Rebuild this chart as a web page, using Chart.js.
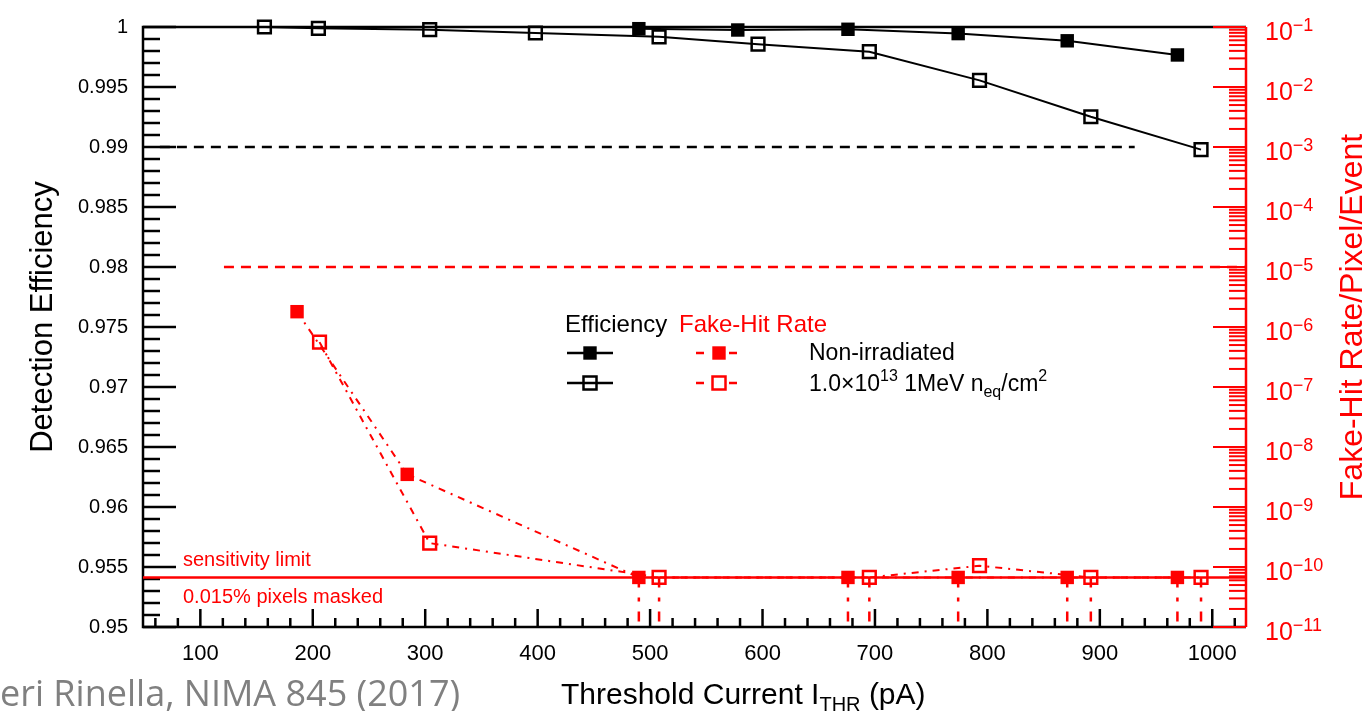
<!DOCTYPE html>
<html>
<head>
<meta charset="utf-8">
<script src="https://cdn.jsdelivr.net/npm/chart.js@4"></script>
<style>
  html, body { margin: 0; padding: 0; background: #fff; }
  #wrap { width: 1370px; height: 711px; position: relative; }
</style>
</head>
<body>
<div id="wrap"><canvas id="c"></canvas></div>
<script>
// threshold current (pA) and detection efficiency
var effThrNon = [490, 578, 676, 774, 871, 969];
var effNon = [0.99986, 0.99975, 0.99981, 0.99945, 0.99885, 0.99767];
var effThrIrr = [157, 205, 304, 398, 508, 596, 695, 793, 892, 990];
var effIrr = [1.0, 0.99989, 0.99978, 0.9995, 0.99918, 0.99857, 0.99794, 0.99555, 0.99252, 0.98978];

// fake-hit rate per pixel per event
var sensLimit = 6.7e-11;
var fakeThrNon = [186, 284, 490, 676, 774, 871, 969];
var fakeNon = [1.8e-6, 3.5e-9, sensLimit, sensLimit, sensLimit, sensLimit, sensLimit];
var fakeThrIrr = [206, 304, 508, 695, 793, 892, 990];
var fakeIrr = [5.6e-7, 2.5e-10, sensLimit, sensLimit, 1.05e-10, sensLimit, sensLimit];

// reference lines
var effRefX = [64, 931];
var effRef = 0.99;
var fakeRefX = [121, 1030];
var fakeRef = 1e-5;

// axes
var xRange = [49, 1030];
var xTickValues = [100, 200, 300, 400, 500, 600, 700, 800, 900, 1000];
var xTickLabels = ['100', '200', '300', '400', '500', '600', '700', '800', '900', '1000'];
var effTickValues = [0.95, 0.955, 0.96, 0.965, 0.97, 0.975, 0.98, 0.985, 0.99, 0.995, 1];
var effTickLabels = ['0.95', '0.955', '0.96', '0.965', '0.97', '0.975', '0.98', '0.985', '0.99', '0.995', '1'];
var fakeExps = [-11, -10, -9, -8, -7, -6, -5, -4, -3, -2, -1];

var RED = '#ff0000';
var FONT = '"Liberation Sans", Arial, Helvetica, sans-serif';
Chart.defaults.font.family = FONT;

function pts(xs, ys) {
  return xs.map(function (x, i) { return { x: x, y: ys[i] }; });
}

// dotted drops under points sitting on the sensitivity limit
var limitDrops = [];
fakeThrNon.concat(fakeThrIrr).forEach(function (x, i) {
  var y = i < fakeThrNon.length ? fakeNon[i] : fakeIrr[i - fakeThrNon.length];
  if (y === sensLimit) {
    limitDrops.push({ x: x, y: sensLimit }, { x: x, y: 1e-11 }, { x: x, y: null });
  }
});

var markerCommon = { pointStyle: 'rect', tension: 0, clip: false, showLine: true };

var datasets = [
  Object.assign({
    label: 'Efficiency non-irradiated', data: pts(effThrNon, effNon), yAxisID: 'yEff',
    borderColor: '#000', backgroundColor: '#000', borderWidth: 2,
    pointRadius: 9.5, pointBorderWidth: 0, pointBackgroundColor: '#000'
  }, markerCommon),
  Object.assign({
    label: 'Efficiency irradiated', data: pts(effThrIrr, effIrr), yAxisID: 'yEff',
    borderColor: '#000', borderWidth: 2,
    pointRadius: 9, pointBorderWidth: 2.5, pointBackgroundColor: 'rgba(0,0,0,0)', pointBorderColor: '#000'
  }, markerCommon),
  Object.assign({
    label: 'Fake-hit non-irradiated', data: pts(fakeThrNon, fakeNon), yAxisID: 'yFake',
    borderColor: RED, borderWidth: 2, borderDash: [7, 6, 2, 6],
    pointRadius: 9.5, pointBorderWidth: 0, pointBackgroundColor: RED
  }, markerCommon),
  Object.assign({
    label: 'Fake-hit irradiated', data: pts(fakeThrIrr, fakeIrr), yAxisID: 'yFake',
    borderColor: RED, borderWidth: 2, borderDash: [7, 6, 2, 6],
    pointRadius: 9, pointBorderWidth: 2.5, pointBackgroundColor: 'rgba(0,0,0,0)', pointBorderColor: RED
  }, markerCommon),
  {
    label: 'limit drops', data: limitDrops, yAxisID: 'yFake', spanGaps: false,
    borderColor: RED, borderWidth: 2.5, borderDash: [10, 10, 4, 10], pointRadius: 0
  },
  {
    label: 'sensitivity limit', data: pts(xRange, [sensLimit, sensLimit]), yAxisID: 'yFake',
    borderColor: RED, borderWidth: 2.5, pointRadius: 0
  },
  {
    label: 'fake ref', data: pts(fakeRefX, [fakeRef, fakeRef]), yAxisID: 'yFake',
    borderColor: RED, borderWidth: 2.5, borderDash: [10, 7], pointRadius: 0
  },
  {
    label: 'eff ref', data: pts(effRefX, [effRef, effRef]), yAxisID: 'yEff',
    borderColor: '#000', borderWidth: 2.5, borderDash: [10, 7], pointRadius: 0
  }
];

function seg(ctx, x1, y1, x2, y2) {
  ctx.beginPath();
  ctx.moveTo(x1, y1);
  ctx.lineTo(x2, y2);
  ctx.stroke();
}

function runs(ctx, parts, x, baseline) {
  // parts: [text, size, dy]
  parts.forEach(function (p) {
    ctx.font = p[1] + 'px ' + FONT;
    ctx.fillText(p[0], x, baseline + p[2]);
    x += ctx.measureText(p[0]).width;
  });
  return x;
}

function vtext(ctx, text, size, color, xBase, yCenter) {
  ctx.save();
  ctx.translate(xBase, yCenter);
  ctx.rotate(-Math.PI / 2);
  ctx.font = size + 'px ' + FONT;
  ctx.fillStyle = color;
  ctx.textAlign = 'center';
  ctx.textBaseline = 'alphabetic';
  ctx.fillText(text, 0, 0);
  ctx.restore();
}

function square(ctx, cx, cy, filled, color) {
  ctx.fillStyle = color;
  ctx.strokeStyle = color;
  if (filled) {
    ctx.fillRect(cx - 6.7, cy - 6.7, 13.4, 13.4);
  } else {
    ctx.lineWidth = 2.5;
    ctx.strokeRect(cx - 6.5, cy - 6.5, 13, 13);
  }
}

var decor = {
  id: 'decor',
  beforeDatasetsDraw: function (chart) {
    var ctx = chart.ctx, a = chart.chartArea, s = chart.scales;
    ctx.save();
    ctx.strokeStyle = '#000';
    ctx.lineWidth = 2.5;
    ctx.beginPath();
    ctx.moveTo(a.right, a.top);
    ctx.lineTo(a.left, a.top);
    ctx.lineTo(a.left, a.bottom);
    ctx.lineTo(a.right, a.bottom);
    ctx.stroke();
    // left axis ticks (inside)
    for (var i = 0; i <= 50; i++) {
      var py = s.yEff.getPixelForValue(0.95 + i * 0.001);
      seg(ctx, a.left, py, a.left + (i % 5 === 0 ? 33 : 17), py);
    }
    // bottom axis ticks (inside)
    for (var v = 60; v <= 1020; v += 20) {
      var px = s.x.getPixelForValue(v);
      seg(ctx, px, a.bottom, px, a.bottom - (v % 100 === 0 ? 18 : 9));
    }
    // right log axis
    ctx.strokeStyle = RED;
    ctx.lineWidth = 2.5;
    seg(ctx, a.right, a.top, a.right, a.bottom);
    ctx.lineWidth = 2;
    fakeExps.forEach(function (e) {
      var py = s.yFake.getPixelForValue(Math.pow(10, e));
      seg(ctx, a.right, py, a.right - 33, py);
      if (e < -1) {
        for (var k = 2; k <= 9; k++) {
          var q = s.yFake.getPixelForValue(k * Math.pow(10, e));
          seg(ctx, a.right, q, a.right - 17, q);
        }
      }
    });
    ctx.restore();
  },
  afterDraw: function (chart) {
    var ctx = chart.ctx, a = chart.chartArea, s = chart.scales;
    ctx.save();
    ctx.textAlign = 'left';
    ctx.textBaseline = 'alphabetic';

    // right axis labels 10^-n
    ctx.fillStyle = RED;
    fakeExps.forEach(function (e) {
      var py = s.yFake.getPixelForValue(Math.pow(10, e));
      runs(ctx, [['10', 25, 13], ['\u2212' + Math.abs(e), 18, 4]], a.right + 19, py);
    });

    // axis titles
    vtext(ctx, 'Detection Efficiency', 31, '#000', 52, 317);
    vtext(ctx, 'Fake-Hit Rate/Pixel/Event', 32, RED, 1362, 317);
    ctx.fillStyle = '#000';
    runs(ctx, [['Threshold Current I', 30, 0], ['THR', 20, 7], [' (pA)', 30, 0]], 561, 704);

    // sensitivity annotation
    ctx.fillStyle = RED;
    ctx.font = '20px ' + FONT;
    ctx.fillText('sensitivity limit', 183, 566);
    ctx.fillText('0.015% pixels masked', 183, 603);

    // legend
    ctx.font = '24px ' + FONT;
    ctx.fillStyle = '#000';
    ctx.fillText('Efficiency', 565, 332);
    ctx.fillStyle = RED;
    ctx.fillText('Fake-Hit Rate', 679, 332);

    [[353, true], [383, false]].forEach(function (row) {
      var y = row[0];
      ctx.strokeStyle = '#000';
      ctx.lineWidth = 2.5;
      seg(ctx, 567, y, 613, y);
      square(ctx, 590, y, row[1], '#000');
      ctx.strokeStyle = RED;
      ctx.lineWidth = 2.5;
      seg(ctx, 696, y, 704, y);
      seg(ctx, 729, y, 737, y);
      square(ctx, 719, y, row[1], RED);
    });
    ctx.fillStyle = '#000';
    ctx.font = '23px ' + FONT;
    ctx.fillText('Non-irradiated', 809, 360);
    runs(ctx, [['1.0\u00d710', 23, 0], ['13', 16, -10], [' 1MeV n', 23, 0], ['eq', 16, 6], ['/cm', 23, 0], ['2', 16, -10]], 809, 391);

    // citation
    ctx.fillStyle = '#808080';
    ctx.font = '36px "Open Sans", sans-serif';
    ctx.fillText('eri Rinella, NIMA 845 (2017)', 0, 706);
    ctx.restore();
  }
};

new Chart(document.getElementById('c'), {
  type: 'line',
  data: { datasets: datasets },
  options: {
    responsive: true,
    maintainAspectRatio: false,
    animation: false,
    layout: { padding: { top: 20, left: 0, right: 0, bottom: 0 } },
    plugins: { legend: { display: false }, tooltip: { enabled: false } },
    scales: {
      x: {
        type: 'linear', position: 'bottom', min: xRange[0], max: xRange[1],
        grid: { display: false, drawTicks: false }, border: { display: false },
        afterBuildTicks: function (sc) { sc.ticks = xTickValues.map(function (v) { return { value: v }; }); },
        afterFit: function (sc) { sc.height = 84; },
        ticks: {
          color: '#000', font: { size: 22 }, padding: 14, maxRotation: 0, autoSkip: false,
          callback: function (v, i) { return xTickLabels[i]; }
        }
      },
      yEff: {
        type: 'linear', position: 'left', min: 0.95, max: 1.0,
        grid: { display: false, drawTicks: false }, border: { display: false },
        afterBuildTicks: function (sc) { sc.ticks = effTickValues.map(function (v) { return { value: v }; }); },
        afterFit: function (sc) { sc.width = 143; },
        ticks: {
          color: '#000', font: { size: 20 }, padding: 15, autoSkip: false,
          callback: function (v, i) { return effTickLabels[i]; }
        }
      },
      yFake: {
        type: 'logarithmic', position: 'right', min: 1e-11, max: 1e-1,
        grid: { display: false, drawTicks: false }, border: { display: false },
        ticks: { display: false },
        afterFit: function (sc) { sc.width = 124; }
      }
    }
  },
  plugins: [decor]
});
</script>
</body>
</html>
